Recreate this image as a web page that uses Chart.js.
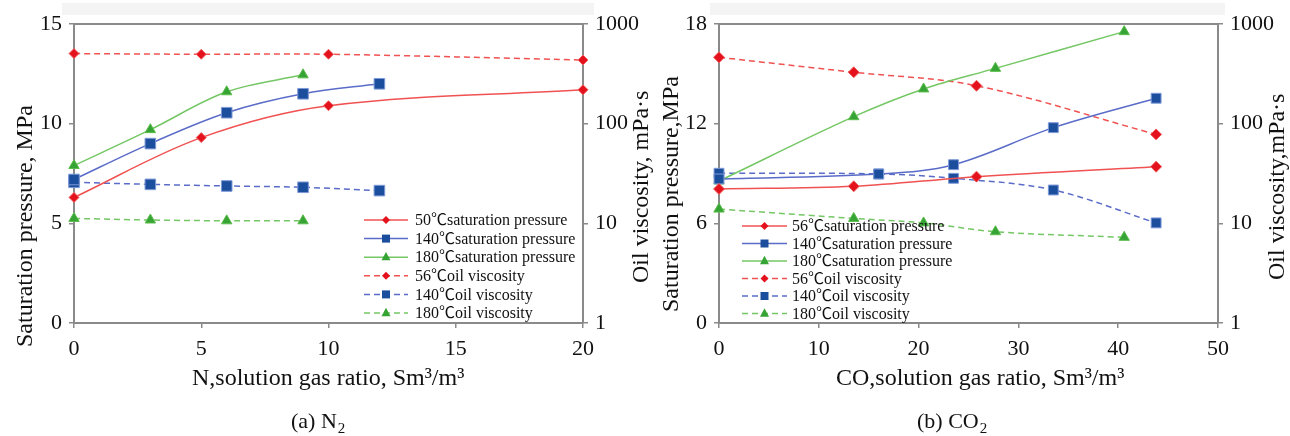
<!DOCTYPE html>
<html>
<head>
<meta charset="utf-8">
<script src="https://cdn.jsdelivr.net/npm/chart.js@4.4.0/dist/chart.umd.min.js"></script>
<style>
  body { margin: 0; background: #fff; }
  #wrap { position: relative; width: 1290px; height: 436px; }
  #chartA { position: absolute; left: 0; top: 0; }
  #chartB { position: absolute; left: 645px; top: 0; }
</style>
</head>
<body>
<div id="wrap">
  <canvas id="chartA" width="655" height="436"></canvas>
  <canvas id="chartB" width="645" height="436"></canvas>
</div>
<script>
// (a) N2 - gas ratio and values per temperature
const nGas50 = [0, 5, 10, 20];
const nSat50 = [6.3, 9.3, 10.9, 11.7];
const nVis56 = [505, 497, 497, 435];
const nGas140 = [0, 3, 6, 9, 12];
const nSat140 = [7.2, 9.0, 10.55, 11.5, 12.0];
const nVis140 = [25.8, 24.6, 23.7, 23.0, 21.3];
const nGas180 = [0, 3, 6, 9];
const nSat180 = [7.9, 9.7, 11.6, 12.45];
const nVis180 = [11.2, 10.8, 10.6, 10.6];

// (b) CO2
const cGas56 = [0, 13.5, 25.8, 43.8];
const cSat56 = [8.07, 8.23, 8.81, 9.41];
const cVis56 = [463, 328, 240, 78];
const cGas140 = [0, 16, 23.5, 33.5, 43.8];
const cSat140 = [8.67, 8.97, 9.53, 11.76, 13.53];
const cVis140 = [31.8, 31.3, 28.3, 21.6, 10.1];
const cGas180 = [0, 13.5, 20.5, 27.7, 40.6];
const cSat180 = [8.55, 12.42, 14.09, 15.33, 17.54];
const cVis180 = [13.9, 11.2, 10.1, 8.24, 7.24];

// tick labels
const nPressTicks = [0, 5, 10, 15];
const nGasTicks = [0, 5, 10, 15, 20];
const cPressTicks = [0, 6, 12, 18];
const cGasTicks = [0, 10, 20, 30, 40, 50];
const viscTicks = [1, 10, 100, 1000];

const labelsA = ['50℃saturation pressure', '140℃saturation pressure', '180℃saturation pressure',
                 '56℃oil viscosity', '140℃oil viscosity', '180℃oil viscosity'];
const labelsB = ['56℃saturation pressure', '140℃saturation pressure', '180℃saturation pressure',
                 '56℃oil viscosity', '140℃oil viscosity', '180℃oil viscosity'];

const SERIF = "'Liberation Serif', 'Noto Sans CJK SC', serif";
const AXIS = '#8a8a8a';
const RED = { line: '#f05252', mark: '#e3121c', edge: '#f06060' };
const BLUE = { line: '#5a6cc8', mark: '#1c4e9e', edge: '#7f9ad8' };
const GREEN = { line: '#74c764', mark: '#35a434', edge: '#5cbc4c' };

function pts(xs, ys) { return xs.map((x, i) => ({ x: x, y: ys[i] })); }

function series(label, xs, ys, axis, col, style, dashed, r) {
  return {
    label: label, data: pts(xs, ys), yAxisID: axis,
    borderColor: col.line, borderWidth: 1.5, borderDash: dashed ? [6, 4] : [],
    pointStyle: style, pointRadius: r, pointBackgroundColor: col.mark,
    pointBorderColor: col.edge, pointBorderWidth: 1,
    tension: 0.35, clip: false, fill: false
  };
}

function yAxis(pos, ticks, width, log) {
  return {
    type: log ? 'logarithmic' : 'linear', position: pos,
    min: ticks[0], max: ticks[ticks.length - 1],
    afterBuildTicks: s => { s.ticks = ticks.map(v => ({ value: v })); },
    afterFit: s => { s.width = width; },
    grid: { drawOnChartArea: false, tickLength: 5, color: AXIS, lineWidth: 1.5 },
    border: { color: AXIS, width: 2 },
    ticks: { font: { family: SERIF, size: 22 }, color: '#111', padding: 7, callback: v => String(v) }
  };
}

function xAxis(ticks, height) {
  return {
    type: 'linear', position: 'bottom', min: ticks[0], max: ticks[ticks.length - 1],
    afterBuildTicks: s => { s.ticks = ticks.map(v => ({ value: v })); },
    afterFit: s => { s.height = height; },
    grid: { drawOnChartArea: false, tickLength: 5, color: AXIS, lineWidth: 1.5 },
    border: { color: AXIS, width: 2 },
    ticks: { font: { family: SERIF, size: 22 }, color: '#111', padding: 8, maxRotation: 0, callback: v => String(v) }
  };
}

function marker(c, style, x, y, r) {
  c.beginPath();
  if (style === 'rectRot') {
    c.moveTo(x, y - r); c.lineTo(x + r, y); c.lineTo(x, y + r); c.lineTo(x - r, y);
  } else if (style === 'rect') {
    c.rect(x - r, y - r, 2 * r, 2 * r);
  } else {
    c.moveTo(x, y - r * 1.15); c.lineTo(x + r, y + r * 0.7); c.lineTo(x - r, y + r * 0.7);
  }
  c.closePath();
  c.fill();
}

function vText(c, text, x, y) {
  c.save();
  c.translate(x, y);
  c.rotate(-Math.PI / 2);
  c.textAlign = 'left';
  c.textBaseline = 'alphabetic';
  c.fillText(text, 0, 0);
  c.restore();
}

function decor(cfg) {
  return {
    id: 'decor',
    beforeDraw(chart) {
      const c = chart.ctx;
      c.save();
      c.fillStyle = '#f4f4f4';
      c.fillRect(cfg.band[0], 3, cfg.band[1] - cfg.band[0], 12);
      c.restore();
    },
    afterDraw(chart) {
      const c = chart.ctx, a = chart.chartArea;
      c.save();
      // top frame line
      c.strokeStyle = AXIS; c.lineWidth = 2;
      c.beginPath(); c.moveTo(a.left, a.top); c.lineTo(a.right, a.top); c.stroke();

      // titles
      c.fillStyle = '#111';
      c.font = '24px ' + SERIF;
      vText(c, cfg.leftTitle, cfg.leftPos[0], cfg.leftPos[1]);
      vText(c, cfg.rightTitle, cfg.rightPos[0], cfg.rightPos[1]);
      c.textAlign = 'left'; c.textBaseline = 'alphabetic';
      c.fillText(cfg.xTitle, cfg.xPos[0], cfg.xPos[1]);

      // caption with subscript
      c.font = '22px ' + SERIF;
      c.fillText(cfg.caption, cfg.capPos[0], cfg.capPos[1]);
      const w = c.measureText(cfg.caption).width;
      c.font = '15px ' + SERIF;
      c.fillText('2', cfg.capPos[0] + w + 1, cfg.capPos[1] + 5);

      // legend
      const lg = cfg.legend;
      chart.data.datasets.forEach((ds, i) => {
        const y = lg.top + i * lg.step;
        c.strokeStyle = ds.borderColor; c.lineWidth = 1.5;
        c.setLineDash(ds.borderDash);
        c.beginPath(); c.moveTo(lg.x0, y); c.lineTo(lg.x1, y); c.stroke();
        c.setLineDash([]);
        c.fillStyle = ds.pointBackgroundColor;
        const r = ds.pointStyle === 'triangle' ? 4.5 : 4;
        marker(c, ds.pointStyle, (lg.x0 + lg.x1) / 2, y, r);
        c.fillStyle = '#111';
        c.font = '16px ' + SERIF;
        c.textBaseline = 'middle';
        c.fillText(ds.label, lg.tx, y + 1);
        c.textBaseline = 'alphabetic';
      });
      c.restore();
    }
  };
}

const commonOpts = {
  responsive: false, animation: false,
  layout: { padding: { top: 24, left: 0, right: 0, bottom: 0 } },
  plugins: { legend: { display: false }, tooltip: { enabled: false } }
};

new Chart(document.getElementById('chartA'), {
  type: 'line',
  data: {
    datasets: [
      series(labelsA[0], nGas50, nSat50, 'yP', RED, 'rectRot', false, 5),
      series(labelsA[1], nGas140, nSat140, 'yP', BLUE, 'rect', false, 7.5),
      series(labelsA[2], nGas180, nSat180, 'yP', GREEN, 'triangle', false, 6),
      series(labelsA[3], nGas50, nVis56, 'yV', RED, 'rectRot', true, 5),
      series(labelsA[4], nGas140, nVis140, 'yV', BLUE, 'rect', true, 7.5),
      series(labelsA[5], nGas180, nVis180, 'yV', GREEN, 'triangle', true, 6)
    ]
  },
  options: Object.assign({}, commonOpts, {
    scales: {
      x: xAxis(nGasTicks, 113),
      yP: yAxis('left', nPressTicks, 74, false),
      yV: yAxis('right', viscTicks, 72, true)
    }
  }),
  plugins: [decor({
    band: [62, 594],
    leftTitle: 'Saturation pressure, MPa', leftPos: [32, 347],
    rightTitle: 'Oil viscosity, mPa·s', rightPos: [648, 283],
    xTitle: 'N,solution gas ratio, Sm³/m³', xPos: [192, 385],
    caption: '(a) N', capPos: [291, 428],
    legend: { x0: 364, x1: 408, tx: 415, top: 220, step: 18.6 }
  })]
});

new Chart(document.getElementById('chartB'), {
  type: 'line',
  data: {
    datasets: [
      series(labelsB[0], cGas56, cSat56, 'yP', RED, 'rectRot', false, 5.5),
      series(labelsB[1], cGas140, cSat140, 'yP', BLUE, 'rect', false, 7),
      series(labelsB[2], cGas180, cSat180, 'yP', GREEN, 'triangle', false, 6),
      series(labelsB[3], cGas56, cVis56, 'yV', RED, 'rectRot', true, 5.5),
      series(labelsB[4], cGas140, cVis140, 'yV', BLUE, 'rect', true, 7),
      series(labelsB[5], cGas180, cVis180, 'yV', GREEN, 'triangle', true, 6)
    ]
  },
  options: Object.assign({}, commonOpts, {
    scales: {
      x: xAxis(cGasTicks, 113),
      yP: yAxis('left', cPressTicks, 74, false),
      yV: yAxis('right', viscTicks, 72, true)
    }
  }),
  plugins: [decor({
    band: [65, 580],
    leftTitle: 'Saturation pressure,MPa', leftPos: [33, 312],
    rightTitle: 'Oil viscosity,mPa·s', rightPos: [639, 280],
    xTitle: 'CO,solution gas ratio, Sm³/m³', xPos: [191, 385],
    caption: '(b) CO', capPos: [272, 428],
    legend: { x0: 97, x1: 142, tx: 147, top: 226, step: 17.5 }
  })]
});
</script>
</body>
</html>
